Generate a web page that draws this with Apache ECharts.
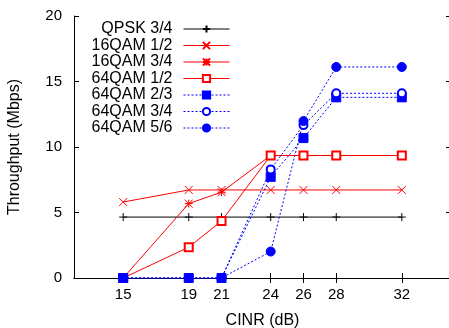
<!DOCTYPE html>
<html>
<head>
<meta charset="utf-8">
<script src="https://cdn.jsdelivr.net/npm/echarts@6/dist/echarts.min.js"></script>
<style>
  html, body { margin: 0; padding: 0; background: #fff; }
  #chart { width: 449px; height: 328px; }
</style>
</head>
<body>
<div id="chart"></div>
<script>
const cinr = [15, 19, 21, 24, 26, 28, 32];
const yTicks = [0, 5, 10, 15, 20];

const qpsk34 = [4.65, 4.65, 4.65, 4.65, 4.65, 4.65, 4.65];
const qam16_12 = [5.8, 6.72, 6.72, 6.72, 6.72, 6.72, 6.72];
const qam16_34 = [0, 5.68, 6.55, 9.35, 9.35, 9.35, 9.35];
const qam64_12 = [0, 2.35, 4.35, 9.35, 9.35, 9.35, 9.35];
const qam64_23 = [0, 0, 0, 7.72, 10.68, 13.79, 13.79];
const qam64_34 = [0, 0, 0, 8.29, 11.67, 14.1, 14.1];
const qam64_56 = [0, 0, 0, 2.02, 11.98, 16.11, 16.11];

const RED = '#ff0000';
const BLUE = '#0000ff';

const PLUS = 'path://M5,0L5,10M0,5L10,5';
const CROSS = 'path://M0,0L10,10M10,0L0,10';
const STAR = 'path://M5,0L5,10M0,5L10,5M0,0L10,10M10,0L0,10';

const pairs = vals => vals.map((v, i) => [cinr[i], v]);

function mkSeries(name, vals, color, symbol, size, dotted) {
  return {
    name: name,
    type: 'line',
    data: pairs(vals),
    symbol: symbol,
    symbolSize: size,
    showAllSymbol: true,
    clip: false,
    color: color,
    lineStyle: { color: color, width: 1, type: dotted ? [2, 2] : 'solid' },
    itemStyle: { color: color, borderColor: color, borderWidth: 1 },
    emphasis: { disabled: true }
  };
}

const chart = echarts.init(document.getElementById('chart'));

const tickStyle = { show: true, inside: true, length: 5, lineStyle: { color: '#000' } };
const lineStyle = { show: true, lineStyle: { color: '#000', width: 1 } };

chart.setOption({
  animation: false,
  textStyle: { fontFamily: 'Liberation Sans' },
  grid: { left: 74, top: 16, right: -2, bottom: 50, outerBoundsMode: 'none', containLabel: false },
  legend: {
    orient: 'vertical',
    align: 'right',
    right: 219,
    top: 21,
    padding: 0,
    itemWidth: 46,
    itemHeight: 9,
    itemGap: 0.5,
    lineStyle: { width: 1 },
    textStyle: { fontSize: 16, color: '#000', lineHeight: 16, padding: [0, 6, 0, 0] },
    data: ['QPSK 3/4', '16QAM 1/2', '16QAM 3/4', '64QAM 1/2', '64QAM 2/3', '64QAM 3/4', '64QAM 5/6']
  },
  xAxis: [
    {
      type: 'value', min: 12, max: 35, position: 'bottom',
      name: 'CINR (dB)', nameLocation: 'middle', nameGap: 35,
      nameTextStyle: { fontSize: 16, color: '#000' },
      axisLine: lineStyle,
      axisTick: Object.assign({ customValues: cinr }, tickStyle),
      axisLabel: { customValues: cinr, fontSize: 15, color: '#000', margin: 9 },
      splitLine: { show: false }
    },
    {
      type: 'value', min: 12, max: 35, position: 'top',
      axisLine: lineStyle,
      axisTick: Object.assign({ customValues: cinr }, tickStyle),
      axisLabel: { show: false },
      splitLine: { show: false }
    }
  ],
  yAxis: [
    {
      type: 'value', min: 0, max: 20, interval: 5, position: 'left',
      name: 'Throughput (Mbps)', nameLocation: 'middle', nameGap: 51,
      nameTextStyle: { fontSize: 16, color: '#000' },
      axisLine: lineStyle,
      axisTick: Object.assign({ customValues: yTicks }, tickStyle),
      axisLabel: { customValues: yTicks, fontSize: 15, color: '#000', margin: 12 },
      splitLine: { show: false }
    },
    {
      type: 'value', min: 0, max: 20, interval: 5, position: 'right',
      axisLine: lineStyle,
      axisTick: tickStyle,
      axisLabel: { show: false },
      splitLine: { show: false }
    }
  ],
  series: [
    mkSeries('QPSK 3/4', qpsk34, '#000000', PLUS, 8, false),
    mkSeries('16QAM 1/2', qam16_12, RED, CROSS, 8, false),
    mkSeries('16QAM 3/4', qam16_34, RED, STAR, 8, false),
    mkSeries('64QAM 1/2', qam64_12, RED, 'emptyRect', 8, false),
    mkSeries('64QAM 2/3', qam64_23, BLUE, 'rect', 9, true),
    mkSeries('64QAM 3/4', qam64_34, BLUE, 'emptyCircle', 8, true),
    mkSeries('64QAM 5/6', qam64_56, BLUE, 'circle', 9, true)
  ]
});
</script>
</body>
</html>
